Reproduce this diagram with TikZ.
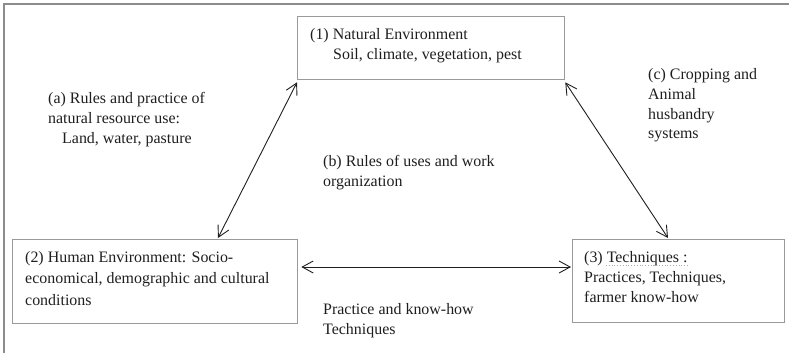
\documentclass[tikz,border=0pt]{standalone}
\usepackage{fontspec}
\setmainfont{Liberation Serif}
\usetikzlibrary{arrows.meta,calc}
\definecolor{boxgray}{HTML}{9A9A9A}
\definecolor{framegray}{HTML}{8C8C8C}
\definecolor{inkblack}{HTML}{1E1E1E}
\definecolor{spellgreen}{HTML}{7FC77F}
\begin{document}
\begin{tikzpicture}[x=1bp,y=-1bp,
  box/.style={draw=boxgray, line width=1.3bp, anchor=north west, inner sep=0pt},
  lbl/.style={anchor=north west, inner sep=0pt, align=left, text=inkblack,
    font=\fontsize{16}{20}\selectfont},
  lblwide/.style={lbl, font=\fontsize{16}{21.5}\selectfont},
  link/.style={draw=inkblack, line width=0.9bp,
    {Straight Barb[length=11bp,width=12bp,line width=0.9bp]}-{Straight Barb[length=11bp,width=12bp,line width=0.9bp]}}
]
\useasboundingbox (0,0) rectangle (789,353);
% outer frame (left and top edges)
\draw[framegray, line width=1.3bp] (4,353) -- (4,4) -- (789,4);

% boxes
\node[box, minimum width=267bp, minimum height=63bp] (n1) at (297,16) {};
\node[box, minimum width=285bp, minimum height=84bp] (n2) at (12,239) {};
\node[box, minimum width=212bp, minimum height=83bp] (n3) at (572,239) {};

% box texts
\node[lbl] (t1) at (310,25) {\strut(1) Natural Environment\\\hspace*{23bp}Soil, climate, vegetation, pest};
\node[lblwide] (t2) at (25,247) {\strut(2) Human Environment: Socio-\\economical, demographic and cultural\\conditions};
\node[lbl] (t3) at (584,248) {\strut(3) Techniques :\\Practices, Techniques,\\farmer know-how};
\draw[spellgreen, line width=0.8bp, dotted] (606,265) -- (688,265);

% labels
\node[lbl] (la) at (48,89) {\strut(a) Rules and practice of\\natural resource use:\\\hspace*{14bp}Land, water, pasture};
\node[lbl] (lb) at (323,152) {\strut(b) Rules of uses and work\\organization};
\node[lbl] (lc) at (648,65) {\strut(c) Cropping and\\Animal\\husbandry\\systems};
\node[lbl] (ld) at (323,300) {\strut Practice and know-how\\Techniques};

% connectors
\draw[link] ($(n2.north west)+(206,-1)$) -- ($(n1.south west)+(0,2)$);
\draw[link] ($(n1.south east)+(0,2)$) -- ($(n3.north west)+(96,-1)$);
\draw[link] ($(n2.north east)+(3,28)$) -- ($(n3.north west)+(-1,28)$);
\end{tikzpicture}
\end{document}
